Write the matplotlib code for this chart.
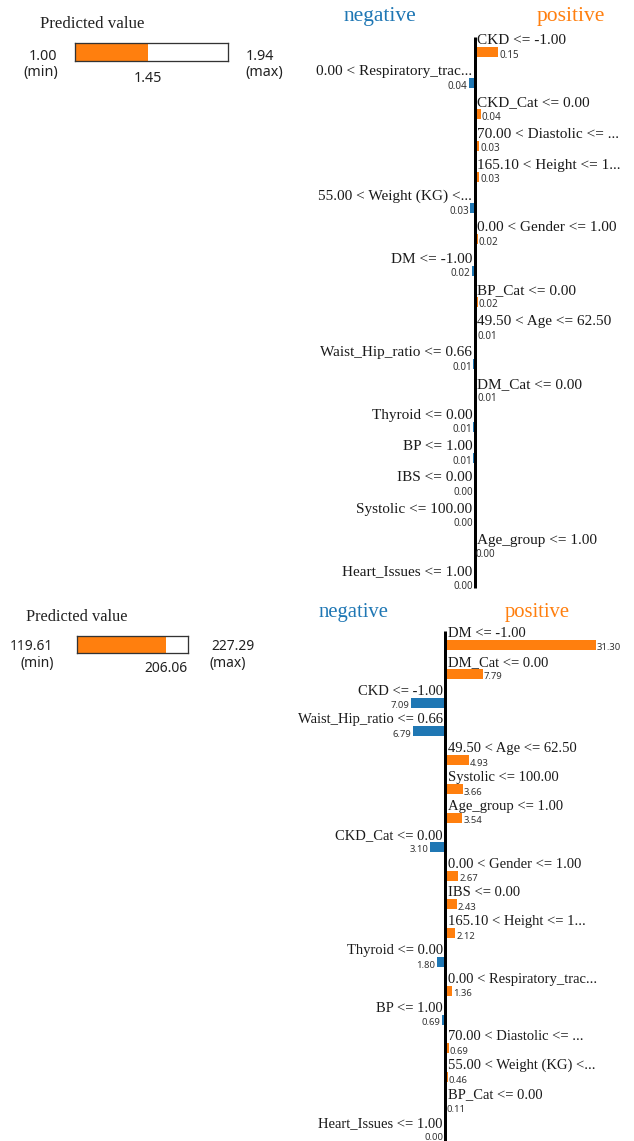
import math
import matplotlib
matplotlib.use("Agg")
import matplotlib.pyplot as plt
from matplotlib.transforms import blended_transform_factory

W, H = 634, 1141
DPI = 100

ORANGE = "#ff7f0e"
BLUE = "#1f77b4"
SERIF = "Liberation Serif"
SANS = "Noto Sans"

# ---- explanation 1 ----
pred1_min, pred1_val, pred1_max = 1.00, 1.45, 1.94
feat1 = [
    "CKD <= -1.00",
    "0.00 < Respiratory_trac...",
    "CKD_Cat <= 0.00",
    "70.00 < Diastolic <= ...",
    "165.10 < Height <= 1...",
    "55.00 < Weight (KG) <...",
    "0.00 < Gender <= 1.00",
    "DM <= -1.00",
    "BP_Cat <= 0.00",
    "49.50 < Age <= 62.50",
    "Waist_Hip_ratio <= 0.66",
    "DM_Cat <= 0.00",
    "Thyroid <= 0.00",
    "BP <= 1.00",
    "IBS <= 0.00",
    "Systolic <= 100.00",
    "Age_group <= 1.00",
    "Heart_Issues <= 1.00",
]
weight1 = [0.15, -0.04, 0.04, 0.03, 0.03, -0.03, 0.02, -0.02, 0.02, 0.01,
           -0.01, 0.01, -0.01, -0.01, -0.0, -0.0, 0.0, -0.0]

# ---- explanation 2 ----
pred2_min, pred2_val, pred2_max = 119.61, 206.06, 227.29
feat2 = [
    "DM <= -1.00",
    "DM_Cat <= 0.00",
    "CKD <= -1.00",
    "Waist_Hip_ratio <= 0.66",
    "49.50 < Age <= 62.50",
    "Systolic <= 100.00",
    "Age_group <= 1.00",
    "CKD_Cat <= 0.00",
    "0.00 < Gender <= 1.00",
    "IBS <= 0.00",
    "165.10 < Height <= 1...",
    "Thyroid <= 0.00",
    "0.00 < Respiratory_trac...",
    "BP <= 1.00",
    "70.00 < Diastolic <= ...",
    "55.00 < Weight (KG) <...",
    "BP_Cat <= 0.00",
    "Heart_Issues <= 1.00",
]
weight2 = [31.30, 7.79, -7.09, -6.79, 4.93, 3.66, 3.54, -3.10, 2.67, 2.43,
           2.12, -1.80, 1.36, -0.69, 0.69, 0.46, 0.11, -0.0]

fig = plt.figure(figsize=(W / DPI, H / DPI), dpi=DPI)
fig.patch.set_facecolor("white")


def pt(px):
    return px * 72.0 / DPI


def rect(x0, y0, x1, y1):
    return [x0 / W, 1 - y1 / H, (x1 - x0) / W, (y1 - y0) / H]


def ftext(x, y, s, **kw):
    fig.text(x / W, 1 - y / H, s, **kw)


def predicted_box(box, vmin, val, vmax, k, ys, lab_dx):
    x0, y0, x1, y1 = box
    ax = fig.add_axes(rect(x0, y0, x1, y1))
    ax.barh(0, val - vmin, left=vmin, height=1.0, color=ORANGE, edgecolor="none")
    ax.set_xlim(vmin, vmax)
    ax.set_ylim(-0.5, 0.5)
    ax.set_xticks([])
    ax.set_yticks([])
    for s in ax.spines.values():
        s.set_color("#333333")
        s.set_linewidth(pt(1.3))
    fs = 10.3 * k
    num_y, paren_y, val_y, title_y, title_x = ys
    ftext(x0 - lab_dx[0], num_y, f"{vmin:.2f}", ha="right", va="baseline",
          family=SANS, fontsize=fs, color="#222222")
    ftext(x0 - lab_dx[0] + 1, paren_y, "(min)", ha="right", va="baseline",
          family=SANS, fontsize=fs, color="#222222")
    ftext(x1 + lab_dx[1], num_y, f"{vmax:.2f}", ha="left", va="baseline",
          family=SANS, fontsize=fs, color="#222222")
    ftext(x1 + lab_dx[1] - 1, paren_y, "(max)", ha="left", va="baseline",
          family=SANS, fontsize=fs, color="#222222")
    tr = blended_transform_factory(ax.transData, fig.transFigure)
    ax.text(val, 1 - val_y / H, f"{val:.2f}", transform=tr, ha="center",
            va="baseline", family=SANS, fontsize=fs, color="#222222")
    ftext(title_x, title_y, "Predicted value", ha="left", va="baseline",
          family=SERIF, fontsize=12.2 * k, color="#222222")


def explanation(names, weights, zero_px, scale, bar0_px, step, line_px, k,
                title_y, neg_x, pos_x):
    top_px, bot_px = line_px[0] - 6, line_px[1]
    ax = fig.add_axes(rect(0, top_px, W, bot_px))
    ax.set_xlim(-zero_px / scale, (W - zero_px) / scale)
    ax.set_ylim((bot_px - bar0_px) / step, (top_px - bar0_px) / step)
    ax.axis("off")

    def dx(p):
        return p / scale

    def dy(p):
        return p / step

    ys = list(range(len(names)))
    positive = [math.copysign(1, w) > 0 for w in weights]
    colors = [ORANGE if p else BLUE for p in positive]
    ax.barh(ys, weights, height=dy(10), color=colors, edgecolor="none", zorder=1)
    ax.plot([0, 0], [(line_px[0] - bar0_px) / step, (line_px[1] - bar0_px) / step],
            color="black", lw=pt(3), solid_capstyle="butt", zorder=3, clip_on=False)
    for i, (name, w, pos) in enumerate(zip(names, weights, positive)):
        ax.text(dx(2.5) if pos else -dx(2.5), i - dy(8), name,
                ha="left" if pos else "right", va="baseline",
                family=SERIF, fontsize=11 * k, color="#1a1a1a", clip_on=False)
        ax.text(w + (dx(1) if pos else -dx(1.5)), i + dy(5.5), f"{abs(w):.2f}",
                ha="left" if pos else "right", va="baseline",
                family=SANS, fontsize=7.1 * k, color="#333333", clip_on=False)
    ftext(neg_x, title_y, "negative", ha="center", va="baseline",
          family=SERIF, fontsize=15.5 * k, color=BLUE)
    ftext(pos_x, title_y, "positive", ha="center", va="baseline",
          family=SERIF, fontsize=15.5 * k, color=ORANGE)


# first explanation
predicted_box((75, 43, 228, 61), pred1_min, pred1_val, pred1_max, 1.0,
              (60, 76, 81.5, 28, 40), (18, 18))
explanation(feat1, weight1, zero_px=474.8, scale=155, bar0_px=52, step=31.24,
            line_px=(37, 588), k=1.0, title_y=20.5, neg_x=380, pos_x=570.5)

# second explanation
predicted_box((77, 636, 188, 653), pred2_min, pred2_val, pred2_max, 0.97,
              (650, 667, 672, 621, 26), (24, 23))
explanation(feat2, weight2, zero_px=445.3, scale=4.8, bar0_px=645, step=28.82,
            line_px=(631, 1141), k=0.96, title_y=617, neg_x=353, pos_x=537)

fig.savefig("out.png", dpi=DPI, facecolor="white")
